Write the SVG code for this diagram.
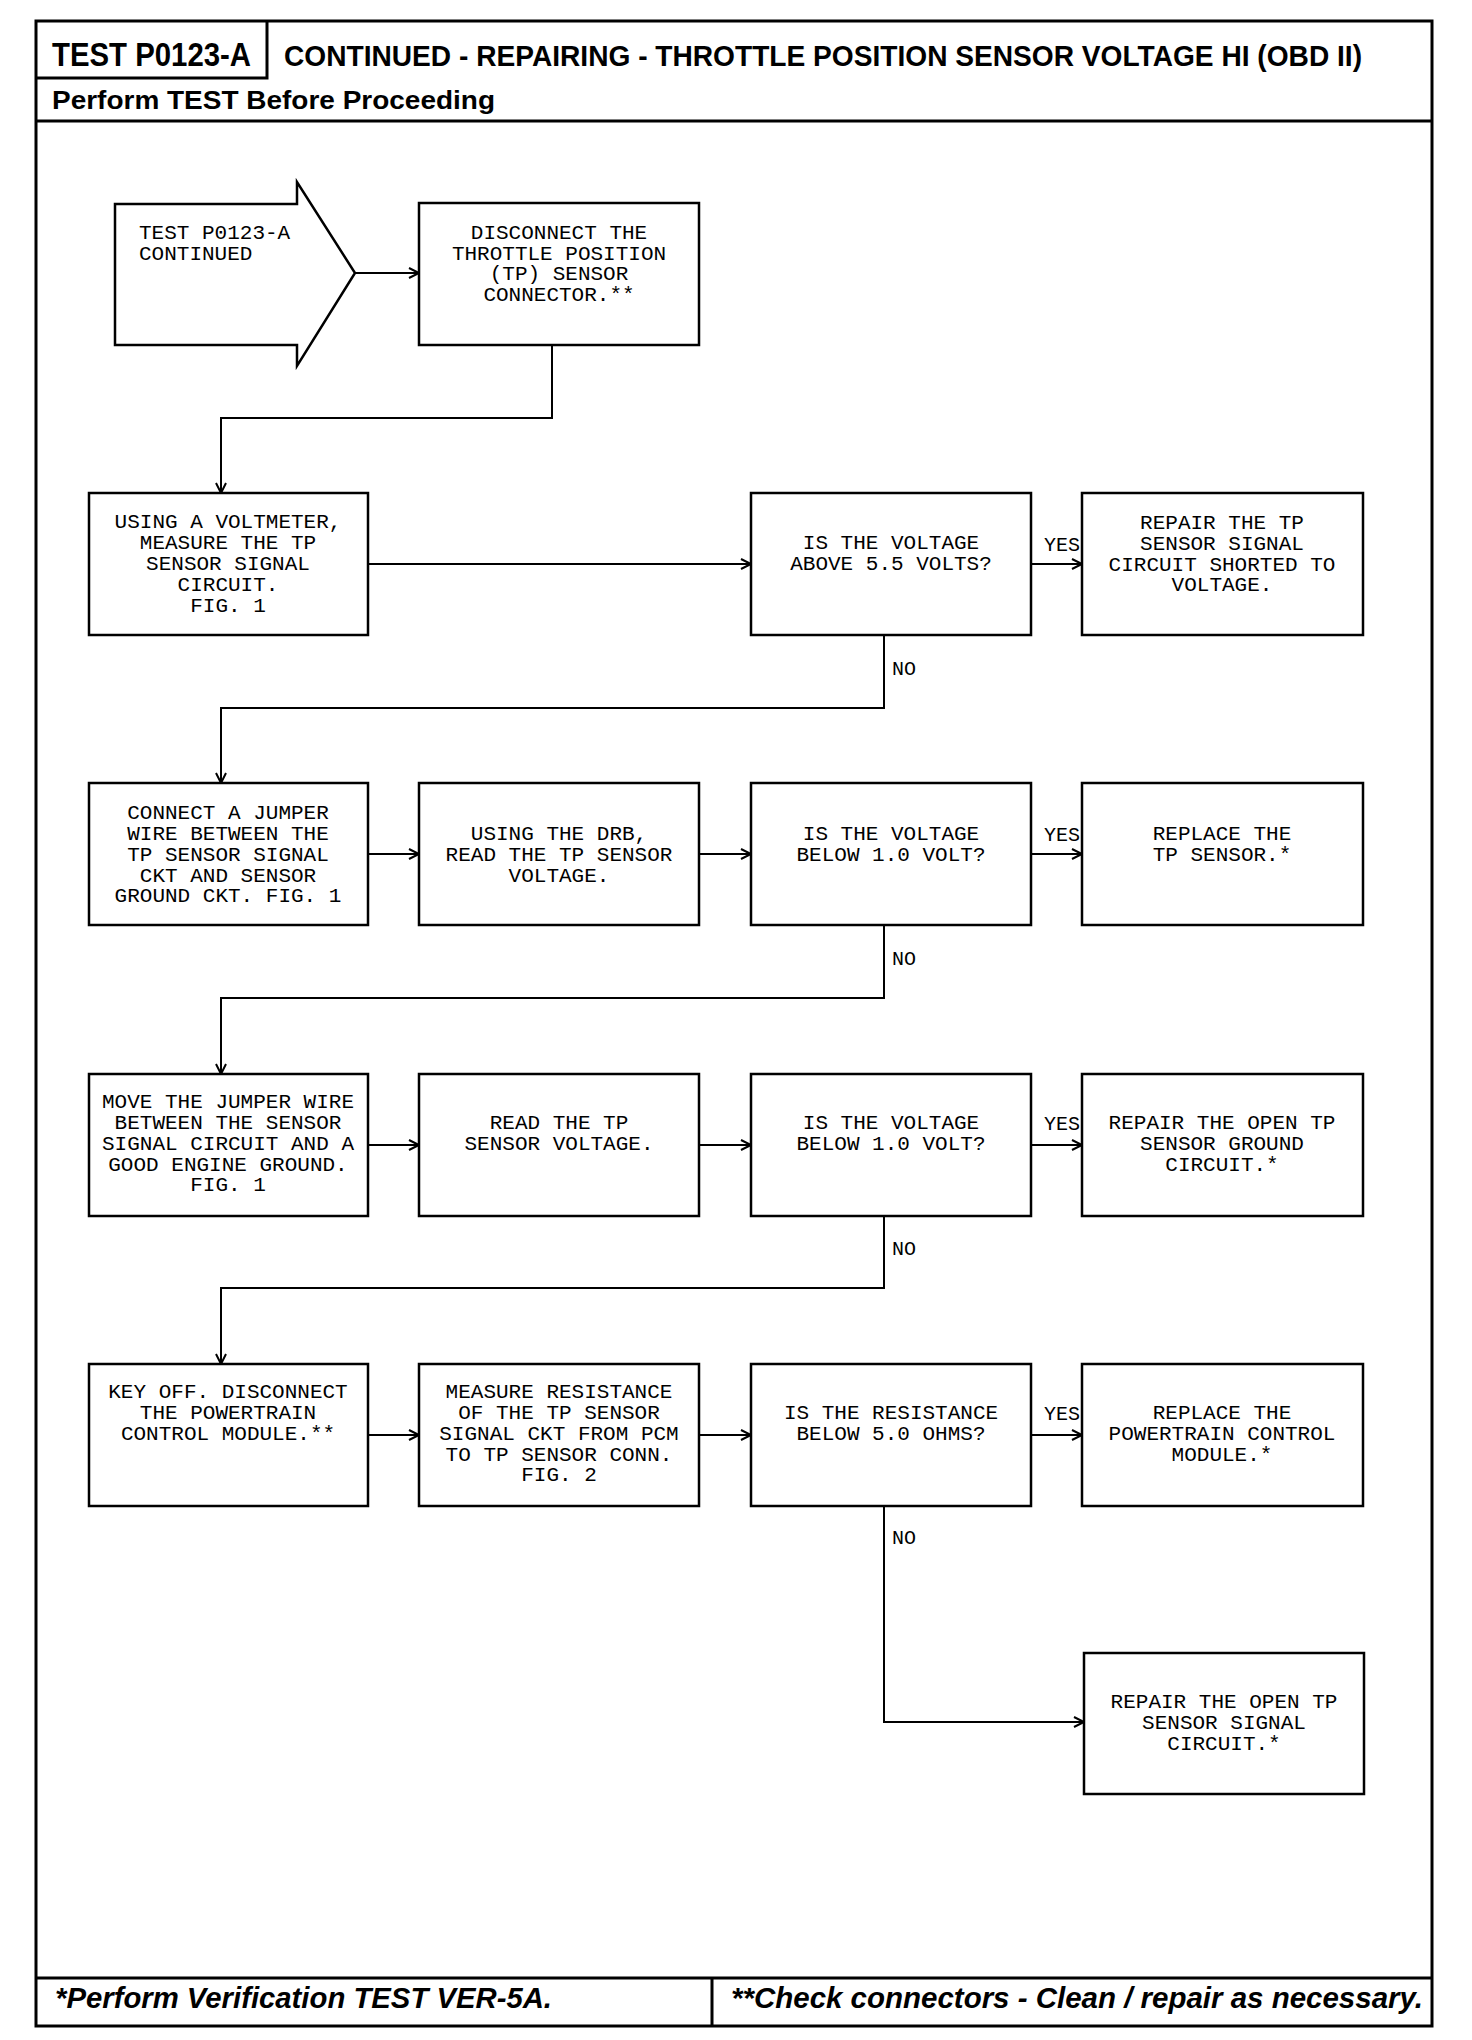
<svg xmlns="http://www.w3.org/2000/svg" width="1472" height="2040" viewBox="0 0 1472 2040">
<style>
.frame{fill:none;stroke:#000;stroke-width:3}
.box{fill:#fff;stroke:#000;stroke-width:2.5}
.conn{fill:none;stroke:#000;stroke-width:2}
.t{font-family:"Liberation Mono","Courier New",monospace;font-size:21px;fill:#000;text-anchor:middle}
.tl{font-family:"Liberation Mono","Courier New",monospace;font-size:21px;fill:#000}
.lbl{font-family:"Liberation Mono","Courier New",monospace;font-size:20px;fill:#000}
.hd{font-family:"Liberation Sans Narrow","Liberation Sans",Arial,sans-serif;font-weight:bold;fill:#000}
.ft{font-family:"Liberation Sans Narrow","Liberation Sans",Arial,sans-serif;font-weight:bold;font-style:italic;fill:#000}
</style>
<defs>
<marker id="ah" markerUnits="userSpaceOnUse" markerWidth="14" markerHeight="14" refX="11" refY="6" orient="auto">
<path d="M1,1 L11,6 L1,11" fill="none" stroke="#000" stroke-width="2"/>
</marker>
</defs>
<rect width="1472" height="2040" fill="#fff"/>
<g id="frame">
<rect class="frame" x="36" y="21" width="1396" height="2005"/>
<path class="frame" d="M36,78 H267 V21"/>
<path class="frame" d="M36,121 H1432"/>
<path class="frame" d="M36,1978 H1432 M712,1978 V2026"/>
<text class="hd" x="52" y="66" font-size="34" textLength="199" lengthAdjust="spacingAndGlyphs">TEST P0123-A</text>
<text class="hd" x="284" y="66" font-size="29" textLength="1078" lengthAdjust="spacingAndGlyphs">CONTINUED - REPAIRING - THROTTLE POSITION SENSOR VOLTAGE HI (OBD II)</text>
<text class="hd" x="52" y="109" font-size="26" textLength="443" lengthAdjust="spacingAndGlyphs">Perform TEST Before Proceeding</text>
<text class="ft" x="55" y="2008" font-size="29" textLength="497" lengthAdjust="spacingAndGlyphs">*Perform Verification TEST VER-5A.</text>
<text class="ft" x="731" y="2008" font-size="29" textLength="692" lengthAdjust="spacingAndGlyphs">**Check connectors - Clean / repair as necessary.</text>
</g>
<g id="connectors">
<path class="conn" d="M355,273 H419" marker-end="url(#ah)"/>
<path class="conn" d="M552,345 V418 H221 V493" marker-end="url(#ah)"/>
<path class="conn" d="M368,564 H751" marker-end="url(#ah)"/>
<path class="conn" d="M1031,564 H1082" marker-end="url(#ah)"/>
<path class="conn" d="M884,635 V708 H221 V783" marker-end="url(#ah)"/>
<path class="conn" d="M368,854 H419" marker-end="url(#ah)"/>
<path class="conn" d="M699,854 H751" marker-end="url(#ah)"/>
<path class="conn" d="M1031,854 H1082" marker-end="url(#ah)"/>
<path class="conn" d="M884,925 V998 H221 V1074" marker-end="url(#ah)"/>
<path class="conn" d="M368,1145 H419" marker-end="url(#ah)"/>
<path class="conn" d="M699,1145 H751" marker-end="url(#ah)"/>
<path class="conn" d="M1031,1145 H1082" marker-end="url(#ah)"/>
<path class="conn" d="M884,1216 V1288 H221 V1364" marker-end="url(#ah)"/>
<path class="conn" d="M368,1435 H419" marker-end="url(#ah)"/>
<path class="conn" d="M699,1435 H751" marker-end="url(#ah)"/>
<path class="conn" d="M1031,1435 H1082" marker-end="url(#ah)"/>
<path class="conn" d="M884,1506 V1722 H1084" marker-end="url(#ah)"/>
<text class="lbl" x="1044" y="551">YES</text>
<text class="lbl" x="892" y="675">NO</text>
<text class="lbl" x="1044" y="841">YES</text>
<text class="lbl" x="892" y="965">NO</text>
<text class="lbl" x="1044" y="1130">YES</text>
<text class="lbl" x="892" y="1255">NO</text>
<text class="lbl" x="1044" y="1420">YES</text>
<text class="lbl" x="892" y="1544">NO</text>
</g>
<g id="start">
<path class="box" d="M115,204 H297 V182 L355,273 L297,366 V345 H115 Z"/>
<text class="tl" x="139" y="239">TEST P0123-A</text>
<text class="tl" x="139" y="260">CONTINUED</text>
</g>
<g id="n1">
<rect class="box" x="419" y="203" width="280" height="142"/>
<text class="t" x="559" y="239">DISCONNECT THE</text>
<text class="t" x="559" y="260">THROTTLE POSITION</text>
<text class="t" x="559" y="280">(TP) SENSOR</text>
<text class="t" x="559" y="301">CONNECTOR.**</text>
</g>
<g id="n2">
<rect class="box" x="89" y="493" width="279" height="142"/>
<text class="t" x="228" y="528">USING A VOLTMETER,</text>
<text class="t" x="228" y="549">MEASURE THE TP</text>
<text class="t" x="228" y="570">SENSOR SIGNAL</text>
<text class="t" x="228" y="591">CIRCUIT.</text>
<text class="t" x="228" y="612">FIG. 1</text>
</g>
<g id="d1">
<rect class="box" x="751" y="493" width="280" height="142"/>
<text class="t" x="891" y="549">IS THE VOLTAGE</text>
<text class="t" x="891" y="570">ABOVE 5.5 VOLTS?</text>
</g>
<g id="r1">
<rect class="box" x="1082" y="493" width="281" height="142"/>
<text class="t" x="1222" y="529">REPAIR THE TP</text>
<text class="t" x="1222" y="550">SENSOR SIGNAL</text>
<text class="t" x="1222" y="571">CIRCUIT SHORTED TO</text>
<text class="t" x="1222" y="591">VOLTAGE.</text>
</g>
<g id="n3">
<rect class="box" x="89" y="783" width="279" height="142"/>
<text class="t" x="228" y="819">CONNECT A JUMPER</text>
<text class="t" x="228" y="840">WIRE BETWEEN THE</text>
<text class="t" x="228" y="861">TP SENSOR SIGNAL</text>
<text class="t" x="228" y="882">CKT AND SENSOR</text>
<text class="t" x="228" y="902">GROUND CKT. FIG. 1</text>
</g>
<g id="n4">
<rect class="box" x="419" y="783" width="280" height="142"/>
<text class="t" x="559" y="840">USING THE DRB,</text>
<text class="t" x="559" y="861">READ THE TP SENSOR</text>
<text class="t" x="559" y="882">VOLTAGE.</text>
</g>
<g id="d2">
<rect class="box" x="751" y="783" width="280" height="142"/>
<text class="t" x="891" y="840">IS THE VOLTAGE</text>
<text class="t" x="891" y="861">BELOW 1.0 VOLT?</text>
</g>
<g id="r2">
<rect class="box" x="1082" y="783" width="281" height="142"/>
<text class="t" x="1222" y="840">REPLACE THE</text>
<text class="t" x="1222" y="861">TP SENSOR.*</text>
</g>
<g id="n5">
<rect class="box" x="89" y="1074" width="279" height="142"/>
<text class="t" x="228" y="1108">MOVE THE JUMPER WIRE</text>
<text class="t" x="228" y="1129">BETWEEN THE SENSOR</text>
<text class="t" x="228" y="1150">SIGNAL CIRCUIT AND A</text>
<text class="t" x="228" y="1171">GOOD ENGINE GROUND.</text>
<text class="t" x="228" y="1191">FIG. 1</text>
</g>
<g id="n6">
<rect class="box" x="419" y="1074" width="280" height="142"/>
<text class="t" x="559" y="1129">READ THE TP</text>
<text class="t" x="559" y="1150">SENSOR VOLTAGE.</text>
</g>
<g id="d3">
<rect class="box" x="751" y="1074" width="280" height="142"/>
<text class="t" x="891" y="1129">IS THE VOLTAGE</text>
<text class="t" x="891" y="1150">BELOW 1.0 VOLT?</text>
</g>
<g id="r3">
<rect class="box" x="1082" y="1074" width="281" height="142"/>
<text class="t" x="1222" y="1129">REPAIR THE OPEN TP</text>
<text class="t" x="1222" y="1150">SENSOR GROUND</text>
<text class="t" x="1222" y="1171">CIRCUIT.*</text>
</g>
<g id="n7">
<rect class="box" x="89" y="1364" width="279" height="142"/>
<text class="t" x="228" y="1398">KEY OFF. DISCONNECT</text>
<text class="t" x="228" y="1419">THE POWERTRAIN</text>
<text class="t" x="228" y="1440">CONTROL MODULE.**</text>
</g>
<g id="n8">
<rect class="box" x="419" y="1364" width="280" height="142"/>
<text class="t" x="559" y="1398">MEASURE RESISTANCE</text>
<text class="t" x="559" y="1419">OF THE TP SENSOR</text>
<text class="t" x="559" y="1440">SIGNAL CKT FROM PCM</text>
<text class="t" x="559" y="1461">TO TP SENSOR CONN.</text>
<text class="t" x="559" y="1481">FIG. 2</text>
</g>
<g id="d4">
<rect class="box" x="751" y="1364" width="280" height="142"/>
<text class="t" x="891" y="1419">IS THE RESISTANCE</text>
<text class="t" x="891" y="1440">BELOW 5.0 OHMS?</text>
</g>
<g id="r4">
<rect class="box" x="1082" y="1364" width="281" height="142"/>
<text class="t" x="1222" y="1419">REPLACE THE</text>
<text class="t" x="1222" y="1440">POWERTRAIN CONTROL</text>
<text class="t" x="1222" y="1461">MODULE.*</text>
</g>
<g id="r5">
<rect class="box" x="1084" y="1653" width="280" height="141"/>
<text class="t" x="1224" y="1708">REPAIR THE OPEN TP</text>
<text class="t" x="1224" y="1729">SENSOR SIGNAL</text>
<text class="t" x="1224" y="1750">CIRCUIT.*</text>
</g>
</svg>
